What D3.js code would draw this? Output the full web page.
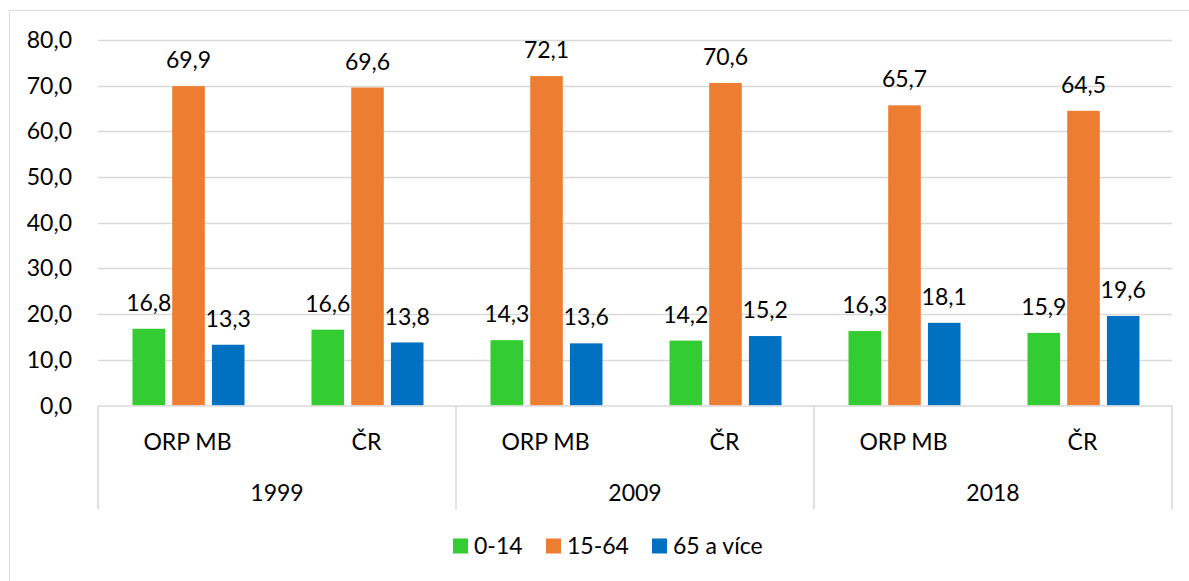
<!DOCTYPE html>
<html>
<head>
<meta charset="utf-8">
<script src="https://cdn.jsdelivr.net/npm/d3@7"></script>
<style>
  body { margin: 0; background: #fff; }
  text { font-family: Lato, "Open Sans", sans-serif; fill: #000; }
</style>
</head>
<body>
<div id="chart"></div>
<script>
// data
var years = ["1999", "2009", "2018"];
var areas = ["ORP MB", "ČR"];
var seriesNames = ["0-14", "15-64", "65 a více"];
var seriesColors = ["#33cc33", "#ed7d31", "#0070c0"];
var age0to14 = [16.8, 16.6, 14.3, 14.2, 16.3, 15.9];
var age15to64 = [69.9, 69.6, 72.1, 70.6, 65.7, 64.5];
var age65plus = [13.3, 13.8, 13.6, 15.2, 18.1, 19.6];
var yTicks = [0, 10, 20, 30, 40, 50, 60, 70, 80];

var svgWidth = 1189;
var svgHeight = 581;
var margin = { top: 40, left: 98, right: 17, bottom: 175.5 };
var width = svgWidth - margin.left - margin.right;
var height = svgHeight - margin.top - margin.bottom;
var fontSize = "23px";

var svg = d3.select("#chart").append("svg")
    .attr("width", svgWidth)
    .attr("height", svgHeight);

// outer chart border
svg.append("rect")
    .attr("x", 9.5).attr("y", 10.5)
    .attr("width", svgWidth).attr("height", svgHeight)
    .attr("fill", "none")
    .attr("stroke", "#d9d9d9");

var chartGroup = svg.append("g")
    .attr("transform", `translate(${margin.left}, ${margin.top})`);

// category keys: year + area
var cats = [];
years.forEach(function(yr) {
    areas.forEach(function(a) { cats.push(yr + "|" + a); });
});

var rows = cats.map(function(c, i) {
    return { key: c, vals: [age0to14[i], age15to64[i], age65plus[i]] };
});

var x0 = d3.scaleBand().domain(cats).range([0, width]);
var x1 = d3.scaleBand().domain([0, 1, 2])
    .range([34.5, x0.bandwidth() - 32.5])
    .paddingInner(0.18);
var y = d3.scaleLinear().domain([0, 80]).range([height, 0]);

// gridlines
chartGroup.selectAll(".grid")
    .data(yTicks.slice(1))
    .enter().append("line")
    .attr("x1", 0).attr("x2", width)
    .attr("y1", d => Math.round(y(d)) + 0.5)
    .attr("y2", d => Math.round(y(d)) + 0.5)
    .attr("stroke", "#d9d9d9")
    .attr("stroke-width", 1.5);

// y axis labels
chartGroup.selectAll(".ylab")
    .data(yTicks)
    .enter().append("text")
    .attr("x", -26)
    .attr("y", d => y(d))
    .attr("dy", "0.35em")
    .attr("text-anchor", "end")
    .style("font-size", fontSize)
    .text(d => d3.format(".1f")(d).replace(".", ","));

// bars
var groups = chartGroup.selectAll(".cat")
    .data(rows)
    .enter().append("g")
    .attr("transform", d => `translate(${x0(d.key)}, 0)`);

groups.selectAll("rect")
    .data(d => d.vals)
    .enter().append("rect")
    .attr("x", (d, i) => x1(i))
    .attr("width", x1.bandwidth())
    .attr("y", d => y(d))
    .attr("height", d => height - y(d))
    .attr("fill", (d, i) => seriesColors[i]);

groups.selectAll(".val")
    .data(d => d.vals)
    .enter().append("text")
    .attr("x", (d, i) => x1(i) + x1.bandwidth() / 2)
    .attr("y", d => y(d) - 26)
    .attr("dy", "0.35em")
    .attr("text-anchor", "middle")
    .style("font-size", fontSize)
    .text(d => d3.format(".1f")(d).replace(".", ","));

// x axis line
chartGroup.append("line")
    .attr("x1", 0).attr("x2", width)
    .attr("y1", height + 0.5).attr("y2", height + 0.5)
    .attr("stroke", "#d9d9d9")
    .attr("stroke-width", 1.5);

// group separators for the two-level axis
var groupW = x0.bandwidth() * areas.length;
d3.range(years.length + 1).forEach(function(i) {
    chartGroup.append("line")
        .attr("x1", i * groupW).attr("x2", i * groupW)
        .attr("y1", height).attr("y2", height + 104)
        .attr("stroke", "#d9d9d9")
        .attr("stroke-width", 1.5);
});

// area labels
chartGroup.selectAll(".catlab")
    .data(cats)
    .enter().append("text")
    .attr("x", d => x0(d) + x0.bandwidth() / 2)
    .attr("y", height + 36)
    .attr("dy", "0.35em")
    .attr("text-anchor", "middle")
    .style("font-size", fontSize)
    .text(d => d.split("|")[1]);

// year labels
chartGroup.selectAll(".yearlab")
    .data(years)
    .enter().append("text")
    .attr("x", (d, i) => i * groupW + groupW / 2)
    .attr("y", height + 87)
    .attr("dy", "0.35em")
    .attr("text-anchor", "middle")
    .style("font-size", fontSize)
    .text(d => d);

// legend
var legendX = [453, 546, 652];
var legend = svg.selectAll(".legend")
    .data(seriesNames)
    .enter().append("g")
    .attr("transform", (d, i) => `translate(${legendX[i]}, 546)`);

legend.append("rect")
    .attr("x", 0).attr("y", -7.5)
    .attr("width", 15).attr("height", 15)
    .attr("fill", (d, i) => seriesColors[i]);

legend.append("text")
    .attr("x", 21)
    .attr("y", 0)
    .attr("dy", "0.35em")
    .style("font-size", fontSize)
    .text(d => d);
</script>
</body>
</html>
